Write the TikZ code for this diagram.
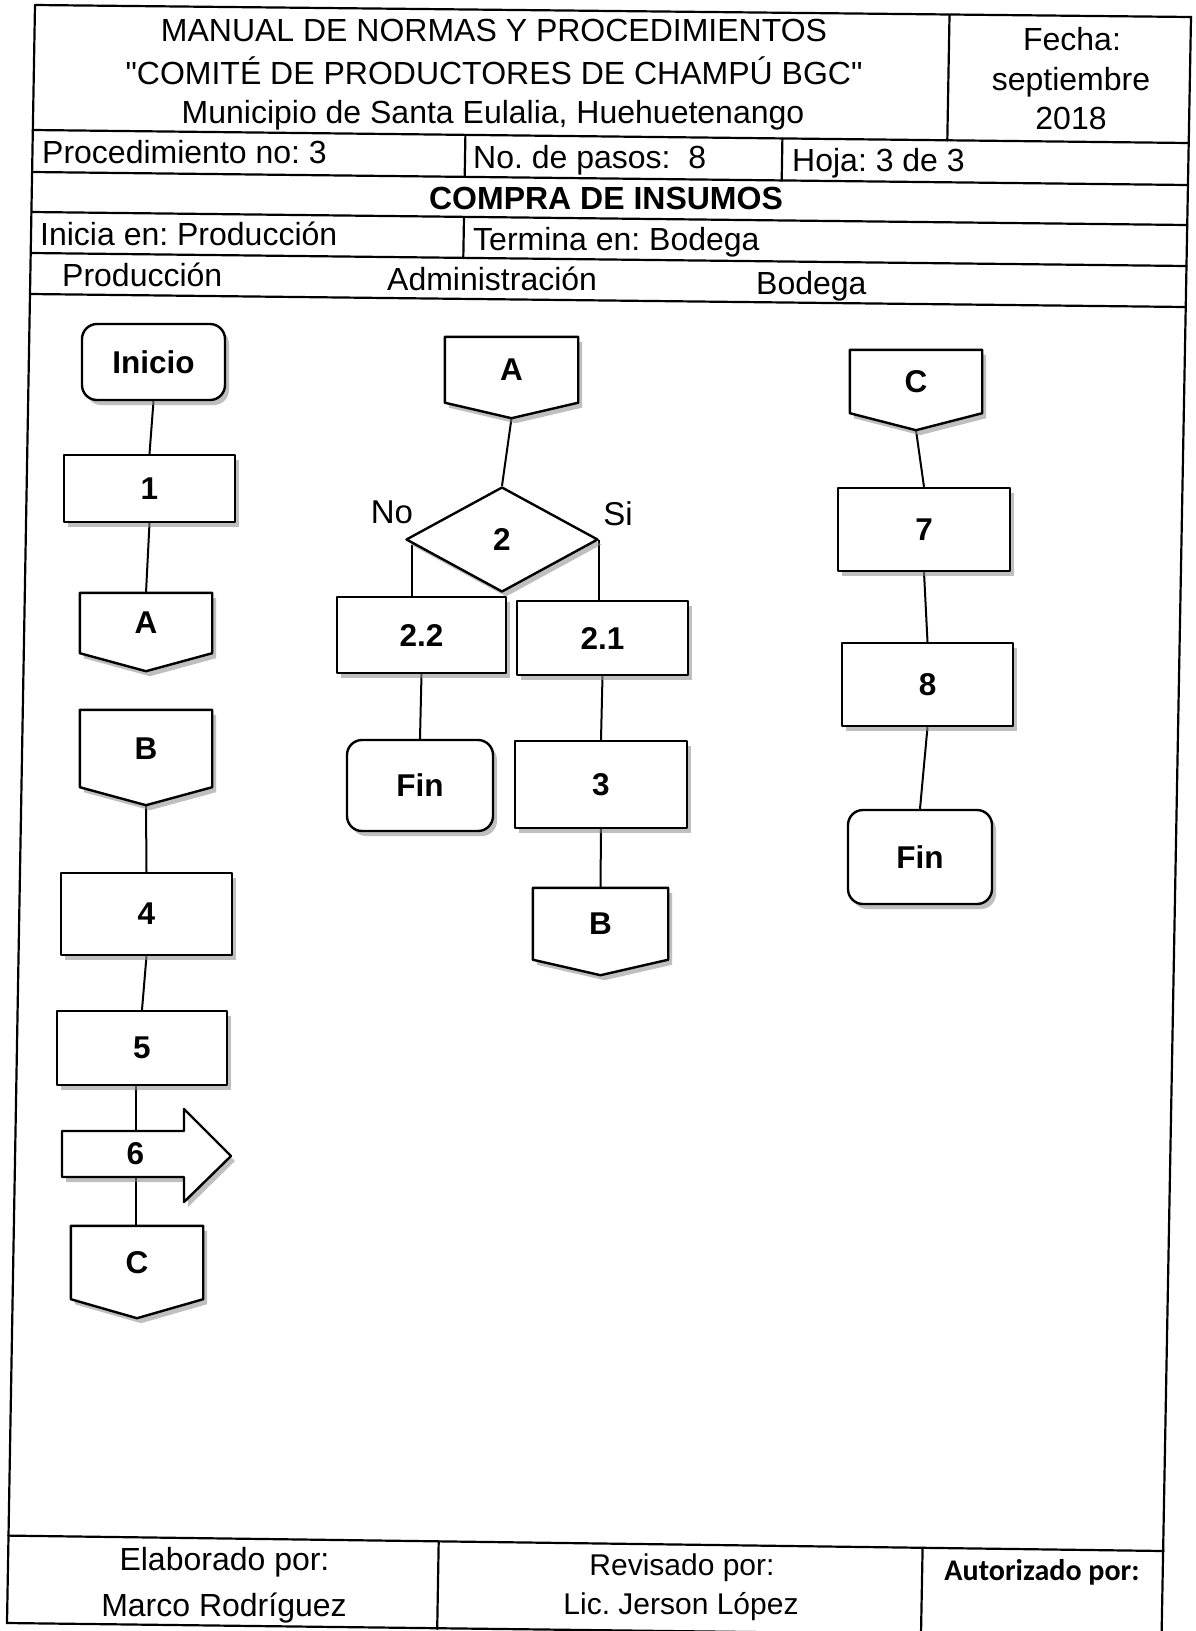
\documentclass[tikz,border=0pt]{standalone}
\usepackage{fontspec}
\setmainfont{Liberation Sans}
% same face without the TeX input mapping, so that " stays a straight quote
\newfontfamily\straightq{Liberation Sans}
\newfontfamily\calib{Carlito}
\usetikzlibrary{shapes.geometric,shadows,calc}

\pgfdeclarelayer{links}
\pgfdeclarelayer{shapes}
\pgfsetlayers{links,shapes,main}

% off-page connector: name, x, y of the square part's centre, width, height of the square part, tip depth, label
\newcommand\offpageconn[7]{%
  \node[conntext, minimum width=#4pt, minimum height=#5pt] (#1) at (#2,#3) {#7};
  \coordinate (#1-tip) at ($(#1.south)+(0,#6)$);
  \begin{pgfonlayer}{shapes}
    \draw[shapeline, fill=white, preaction={fill=black!45, opacity=.55, transform canvas={shift={(4pt,-5pt)}}}]
      (#1.north west) -- (#1.north east) -- (#1.south east) -- (#1-tip) -- (#1.south west) -- cycle;
  \end{pgfonlayer}}

\begin{document}
\frenchspacing
\begin{tikzpicture}[x=1pt,y=-1pt,
  tline/.style={line width=2.2pt, line cap=round},
  tabtext/.style={font=\fontsize{32}{36}\selectfont, inner sep=0pt},
  shapeline/.style={line width=2.4pt, line join=round},
  boxshadow/.style={drop shadow={shadow xshift=4pt, shadow yshift=-5pt, fill=black!45, opacity=.55}},
  stepbox/.style={shapeline, draw, fill=white, rectangle, inner sep=0pt,
    font=\fontsize{31.5}{34}\selectfont\bfseries, boxshadow},
  termbox/.style={stepbox, rounded corners=15pt},
  conntext/.style={inner sep=0pt, font=\fontsize{31.5}{34}\selectfont\bfseries},
  link/.style={line width=2pt},
  lbl/.style={inner sep=0pt, font=\fontsize{33}{36}\selectfont}
]
\useasboundingbox (0,0) rectangle (1196,1631);
\begin{pgfonlayer}{links}
  \fill[white] (0,0) rectangle (1196,1631);
\end{pgfonlayer}

% ---------- form frame ----------
\draw[tline] (35,5) -- (1191,17) -- (1161.5,1640);
\draw[tline] (35,5) -- (7,1623) -- (1162,1637);
\draw[tline] (32.8,130) -- (1188.7,143);
\draw[tline] (32.1,172) -- (1188,185);
\draw[tline] (31.4,212) -- (1187.3,225);
\draw[tline] (30.7,253) -- (1186.5,266);
\draw[tline] (30,294) -- (1185.8,307);
\draw[tline] (8.3,1535.6) -- (1163.7,1551);
\draw[tline] (949.5,15.5) -- (947.3,140.5);
\draw[tline] (465.4,134.9) -- (464.7,176.9);
\draw[tline] (782.4,138.5) -- (781.7,180.5);
\draw[tline] (464,216.9) -- (463.3,257.9);
\draw[tline] (438.7,1541.3) -- (437.2,1629);
\draw[tline] (922.6,1547.8) -- (920.9,1640);

% ---------- header texts ----------
\node[tabtext, anchor=base] (tA) at (494,41) {MANUAL DE NORMAS Y PROCEDIMIENTOS};
\node[tabtext, anchor=base] (tB) at (494,84) {\straightq "COMITÉ DE PRODUCTORES DE CHAMPÚ BGC"};
\node[tabtext, anchor=base] (tC) at (493,123.5) {Municipio de Santa Eulalia, Huehuetenango};
\node[tabtext, anchor=base] (fa) at (1072,50) {Fecha:};
\node[tabtext, anchor=base] (fb) at (1071,90.5) {septiembre};
\node[tabtext, anchor=base] (fc) at (1071,129) {2018};
\node[tabtext, anchor=base west] (proc) at (42,163.5) {Procedimiento no: 3};
\node[tabtext, anchor=base west] (pasos) at (473,168) {No. de pasos: \ 8};
\node[tabtext, anchor=base west] (hoja) at (792,171.5) {Hoja: 3 de 3};
\node[tabtext, anchor=base, font=\fontsize{32}{36}\selectfont\bfseries] (title) at (606,209.5) {COMPRA DE INSUMOS};
\node[tabtext, anchor=base west] (inicia) at (40,245) {Inicia en: Producción};
\node[tabtext, anchor=base west] (termina) at (473,250) {Termina en: Bodega};
\node[tabtext, anchor=base west] (laneP) at (62,286.5) {Producción};
\node[tabtext, anchor=base west] (laneA) at (387,290.5) {Administración};
\node[tabtext, anchor=base west] (laneB) at (756,294.5) {Bodega};

% ---------- footer texts ----------
\node[tabtext, anchor=base] (elab) at (224.5,1570) {Elaborado por:};
\node[tabtext, anchor=base] (marco) at (224,1616) {Marco Rodríguez};
\node[tabtext, anchor=base, font=\fontsize{30}{34}\selectfont] (rev) at (682,1575) {Revisado por:};
\node[tabtext, anchor=base, font=\fontsize{30}{34}\selectfont] (jerson) at (681,1614) {Lic. Jerson López};
\node[tabtext, anchor=base, font=\fontsize{30}{34}\selectfont\calib\bfseries] (aut) at (1042,1580) {Autorizado por:};

% ---------- Producción ----------
\node[termbox, minimum width=143pt, minimum height=76pt] (inicio) at (153.5,362) {Inicio};
\node[stepbox, minimum width=171pt, minimum height=67pt] (b1) at (149.5,488.5) {1};
\offpageconn{pA}{146}{623}{132}{60}{18}{A}
\offpageconn{pB}{146}{748.5}{132}{77}{18}{B}
\node[stepbox, minimum width=171pt, minimum height=82pt] (b4) at (146.5,914) {4};
\node[stepbox, minimum width=170pt, minimum height=74pt] (b5) at (142,1048) {5};
\node[conntext, minimum height=46pt] (six) at (135.5,1154) {6};
\begin{pgfonlayer}{shapes}
  \draw[shapeline, fill=white, preaction={fill=black!45, opacity=.55, transform canvas={shift={(4pt,-5pt)}}}]
    (62,1131) -- (184,1131) -- (184,1109) -- (231,1156) -- (184,1202) -- (184,1177) -- (62,1177) -- cycle;
\end{pgfonlayer}
\offpageconn{pC}{137}{1262.5}{132}{73}{19}{C}

% ---------- Administración ----------
\offpageconn{aA}{511.5}{369.75}{133}{65.5}{15.5}{A}
\node[stepbox, diamond, minimum width=192pt, minimum height=105pt] (dia) at (502,539.5) {2};
\node[lbl] (no) at (392,512) {No};
\node[lbl] (si) at (618,514) {Si};
\node[stepbox, minimum width=169pt, minimum height=76pt] (b22) at (421.5,635) {2.2};
\node[stepbox, minimum width=171pt, minimum height=74pt] (b21) at (602.5,638) {2.1};
\node[termbox, minimum width=146pt, minimum height=91pt] (finA) at (420,785.5) {Fin};
\node[stepbox, minimum width=172pt, minimum height=87pt] (b3) at (601,784.5) {3};
\offpageconn{aB}{600.5}{923.75}{135}{71.5}{15.5}{B}
\coordinate (nol) at ($(dia.west)+(7,5)$);

% ---------- Bodega ----------
\offpageconn{bC}{916}{381.5}{132}{63}{17}{C}
\node[stepbox, minimum width=172pt, minimum height=83pt] (b7) at (924,529.5) {7};
\node[stepbox, minimum width=171pt, minimum height=83pt] (b8) at (927.5,684.5) {8};
\node[termbox, minimum width=144pt, minimum height=94pt] (finB) at (920,857) {Fin};

% ---------- connectors ----------
\begin{pgfonlayer}{links}
  \draw[link] (inicio.south) -- (b1.north);
  \draw[link] (b1.south) -- (pA.north);
  \draw[link] (pB-tip) -- (b4.north);
  \draw[link] (b4.south) -- (b5.north);
  \draw[link] (six.north) -- (six.north |- b5.south);
  \draw[link] (six.south) -- (six.south |- pC.north);
  \draw[link] (aA-tip) -- (dia.north);
  \draw[link] (nol) -- (nol |- b22.north);
  \draw[link] (dia.east) -- (dia.east |- b21.north);
  \draw[link] (b22.south) -- (finA.north);
  \draw[link] (b21.south) -- (b3.north);
  \draw[link] (b3.south) -- (aB.north);
  \draw[link] (bC-tip) -- (b7.north);
  \draw[link] (b7.south) -- (b8.north);
  \draw[link] (b8.south) -- (finB.north);
\end{pgfonlayer}
\end{tikzpicture}
\end{document}
